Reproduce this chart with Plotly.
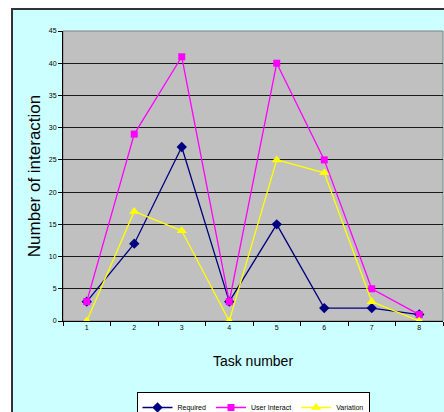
import plotly.graph_objects as go

tasks = [1, 2, 3, 4, 5, 6, 7, 8]
required = [3, 12, 27, 3, 15, 2, 2, 1]
user_interact = [3, 29, 41, 3, 40, 25, 5, 1]
variation = [0, 17, 14, 0, 25, 23, 3, 0]
y_ticks = [0, 5, 10, 15, 20, 25, 30, 35, 40, 45]

fig = go.Figure()
fig.add_trace(go.Scatter(x=tasks, y=required, name="Required", mode="lines+markers",
                         line=dict(color="#000080", width=1.3),
                         marker=dict(symbol="diamond", size=8, color="#000080")))
fig.add_trace(go.Scatter(x=tasks, y=user_interact, name="User Interact", mode="lines+markers",
                         line=dict(color="#FF00FF", width=1.3),
                         marker=dict(symbol="square", size=7, color="#FF00FF")))
fig.add_trace(go.Scatter(x=tasks, y=variation, name="Variation", mode="lines+markers",
                         line=dict(color="#FFFF00", width=1.3),
                         marker=dict(symbol="triangle-up", size=9, color="#FFFF00")))

L, R, T, B = 63, 1, 31, 91
W, H = 444, 412
pw, ph = W - L - R, H - T - B

def px(x):
    return (x - L) / pw

def py(y):
    return (H - B - y) / ph

fig.add_shape(type="rect", xref="paper", yref="paper",
              x0=px(12), x1=px(450), y0=py(420), y1=py(9),
              fillcolor="#CCFFFF", line=dict(color="#333333", width=2), layer="below")
fig.add_shape(type="rect", xref="paper", yref="paper",
              x0=0, x1=1, y0=0, y1=1,
              fillcolor="#C0C0C0", line=dict(color="#808080", width=1), layer="below")

fig.update_layout(
    width=W, height=H,
    margin=dict(l=L, r=R, t=T, b=B, autoexpand=False),
    paper_bgcolor="white",
    plot_bgcolor="rgba(0,0,0,0)",
    font=dict(family="Liberation Sans, Arial, sans-serif", color="black"),
    showlegend=True,
    legend=dict(orientation="h", x=0.5, xanchor="center", y=py(392), yanchor="top",
                bgcolor="white", bordercolor="black", borderwidth=1,
                font=dict(size=7), itemwidth=30, tracegroupgap=0),
    xaxis=dict(range=[0.5, 8.5], tickmode="array", tickvals=tasks,
               ticktext=[str(t) for t in tasks], ticks="", showgrid=False,
               showline=True, linecolor="black", linewidth=1,
               tickfont=dict(size=7), zeroline=False, automargin=False,
               minor=dict(tick0=0.5, dtick=1, ticks="outside", ticklen=4, tickcolor="black",
                          showgrid=False),
               title=dict(text="Task number", font=dict(size=14), standoff=25)),
    yaxis=dict(range=[0, 45], tickmode="array", tickvals=y_ticks,
               ticks="outside", ticklen=4, tickcolor="black",
               showgrid=True, gridcolor="#1a1a1a", gridwidth=1,
               showline=True, linecolor="black", linewidth=1, zeroline=False,
               tickfont=dict(size=7), automargin=False,
               title=dict(text="Number of interaction", font=dict(size=17), standoff=3)),
)

fig.write_html("out.html", config={"displayModeBar": False},
               post_script="document.body.style.margin='0';document.body.style.overflow='hidden';")
